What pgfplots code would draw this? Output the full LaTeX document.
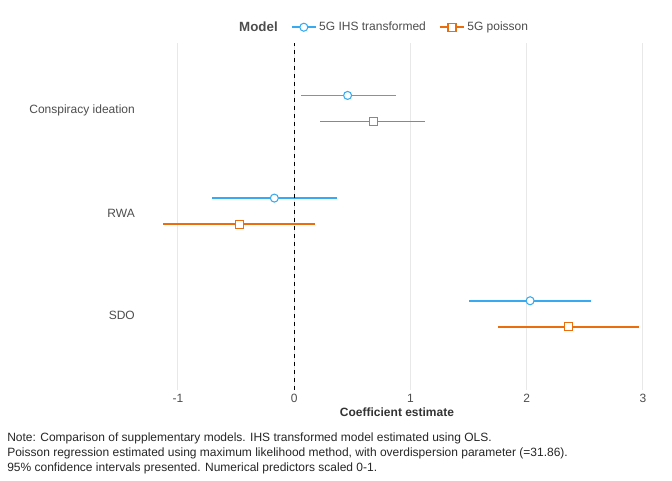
\documentclass[border=0pt]{standalone}
\usepackage{pgfplots}
\pgfplotsset{compat=1.18}
\usepackage{fontspec}
\setmainfont{Liberation Sans}
\definecolor{cb}{HTML}{38AAF0}
\definecolor{co}{HTML}{EB6E0C}
\definecolor{tx}{HTML}{4D4D4D}
\begin{document}
\begin{tikzpicture}[x=0.75pt,y=0.75pt]
\path (0,0) rectangle (672,480);
\begin{axis}[at={(120,88)},anchor=south west,scale only axis,
 width=386.25pt,height=260.25pt,
 xmin=-1.33,xmax=3.10,ymin=0.28,ymax=3.66,
 axis line style={draw=none},
 xtick={-1,0,1,2,3},ytick={1,2,3},
 yticklabels={SDO,RWA,Conspiracy ideation},
 tick style={draw=none},
 xmajorgrids,grid style={color=black!9,line width=0.6pt},
 ticklabel style={font=\fontsize{9}{10}\selectfont,text=tx},
 /pgf/number format/assume math mode=true,
 xlabel={\textbf{Coefficient estimate}},
 xlabel style={font=\fontsize{9}{10}\selectfont,text=black!80,yshift=3pt},
 legend style={at={(0.5,1.0)},yshift=3pt,anchor=south,draw=none,
   font=\fontsize{9}{10}\selectfont,text=tx,/tikz/every even column/.append style={column sep=8pt}},
 legend columns=-1,
 legend image code/.code={\draw[#1,mark=none,line width=1.1pt] (0pt,0pt)--(18pt,0pt); \path[#1] plot coordinates {(9pt,0pt)};},
 error bars/error bar style={line width=1.2pt},
 error bars/error mark=none,
]
\addlegendimage{empty legend}
\addlegendentry{\hspace{-20pt}\fontsize{10}{11}\selectfont\textbf{Model}}
\addplot[only marks,color=cb,mark=*,mark size=3pt,mark options={fill=white,line width=0.8pt},
 error bars/.cd,x dir=both,x explicit] coordinates {
 (0.46,3.146) += (0.42,0) -= (0.40,0)
 (-0.17,2.146) += (0.54,0) -= (0.54,0)
 (2.03,1.146) += (0.52,0) -= (0.53,0)
};
\addlegendentry{5G IHS transformed}
\addplot[only marks,color=co,mark=square*,mark size=3pt,mark options={fill=white,line width=0.8pt},
 error bars/.cd,x dir=both,x explicit] coordinates {
 (0.68,2.893) += (0.45,0) -= (0.46,0)
 (-0.47,1.893) += (0.65,0) -= (0.66,0)
 (2.36,0.893) += (0.61,0) -= (0.61,0)
};
\addlegendentry{5G poisson}
\draw[dashed,line width=0.8pt] (axis cs:0,0.28) -- (axis cs:0,3.66);
\end{axis}
\node[anchor=north west,align=left,font=\fontsize{9}{11.2}\selectfont,text=black!85,inner sep=0] at (7,47) {Note: Comparison of supplementary models. IHS transformed model estimated using OLS.\\Poisson regression estimated using maximum likelihood method, with overdispersion parameter (=31.86).\\95\% confidence intervals presented. Numerical predictors scaled 0-1.};
\end{tikzpicture}
\end{document}
